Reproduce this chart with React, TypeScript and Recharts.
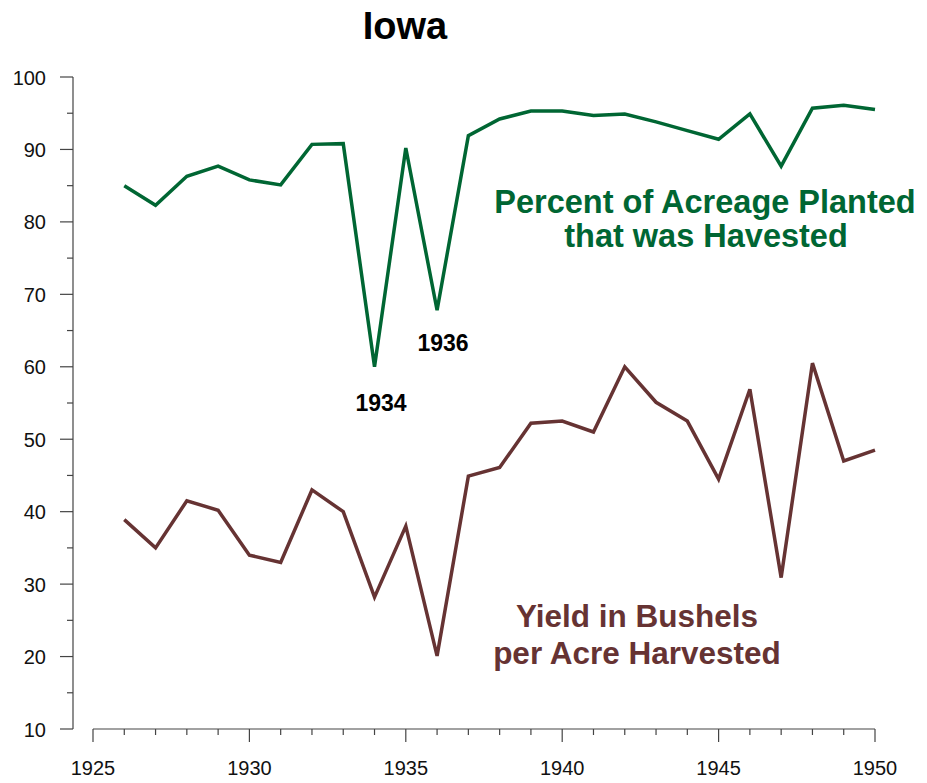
import { LineChart, Line, XAxis, YAxis } from 'recharts';

const years = [
  1926, 1927, 1928, 1929, 1930, 1931, 1932, 1933, 1934, 1935, 1936, 1937, 1938,
  1939, 1940, 1941, 1942, 1943, 1944, 1945, 1946, 1947, 1948, 1949, 1950,
];
const pctHarvested = [
  85.0, 82.3, 86.3, 87.7, 85.8, 85.1, 90.7, 90.8, 60.0, 90.2, 67.8, 91.9, 94.2,
  95.3, 95.3, 94.7, 94.9, 93.8, 92.6, 91.4, 94.9, 87.7, 95.7, 96.1, 95.5,
];
const yieldBushels = [
  38.9, 35.0, 41.5, 40.2, 34.0, 33.0, 43.0, 40.0, 28.2, 38.0, 20.1, 44.9, 46.1,
  52.2, 52.5, 51.0, 60.0, 55.1, 52.5, 44.5, 56.9, 30.9, 60.5, 47.0, 48.5,
];
const xTicks = [
  1925, 1926, 1927, 1928, 1929, 1930, 1931, 1932, 1933, 1934, 1935, 1936, 1937,
  1938, 1939, 1940, 1941, 1942, 1943, 1944, 1945, 1946, 1947, 1948, 1949, 1950,
];
const yTicks = [10, 15, 20, 25, 30, 35, 40, 45, 50, 55, 60, 65, 70, 75, 80, 85, 90, 95, 100];

const data = years.map((year, i) => ({ year, pct: pctHarvested[i], yld: yieldBushels[i] }));

const FONT = '"Liberation Sans", Arial, sans-serif';
const GREEN = '#006633';
const BROWN = '#663333';
const AXIS = '#444';

const XTick = ({ x, y, payload }: any) => {
  const major = payload.value % 5 === 0;
  return (
    <g>
      <line x1={x} x2={x} y1={y} y2={y + (major ? 13 : 6)} stroke={AXIS} strokeWidth={1.2} />
      {major && (
        <text x={x} y={y + 46} textAnchor="middle" fontSize={20} fill="#111" fontFamily={FONT}>
          {payload.value}
        </text>
      )}
    </g>
  );
};

const YTick = ({ x, y, payload }: any) => {
  const major = payload.value % 10 === 0;
  return (
    <g>
      <line x1={x - (major ? 13 : 6)} x2={x} y1={y} y2={y} stroke={AXIS} strokeWidth={1.2} />
      {major && (
        <text x={x - 27} y={y + 7.5} textAnchor="end" fontSize={20} fill="#111" fontFamily={FONT}>
          {payload.value}
        </text>
      )}
    </g>
  );
};

export default function App() {
  return (
    <div style={{ position: 'absolute', left: 0, top: 0, width: 927, height: 783, background: '#fff' }}>
      <LineChart width={927} height={783} data={data} margin={{ top: 77, right: 52, left: 0, bottom: 0 }}>
        <XAxis
          dataKey="year"
          type="number"
          domain={[1925, 1950]}
          ticks={xTicks}
          interval={0}
          padding={{ left: 20, right: 0 }}
          height={54}
          axisLine={false}
          tickLine={false}
          tickSize={0}
          tickMargin={0}
          tick={<XTick />}
        />
        <YAxis
          type="number"
          domain={[10, 100]}
          ticks={yTicks}
          interval={0}
          width={73}
          axisLine={{ stroke: AXIS, strokeWidth: 1.2 }}
          tickLine={false}
          tickSize={0}
          tickMargin={0}
          tick={<YTick />}
        />
        <Line
          dataKey="pct"
          type="linear"
          stroke={GREEN}
          strokeWidth={3.5}
          dot={false}
          isAnimationActive={false}
        />
        <Line
          dataKey="yld"
          type="linear"
          stroke={BROWN}
          strokeWidth={3.5}
          dot={false}
          isAnimationActive={false}
        />
        <line x1={93} x2={875} y1={729} y2={729} stroke={AXIS} strokeWidth={1.2} />
        <text x={405} y={39} textAnchor="middle" fontSize={38} fontWeight="bold" fill="#000" fontFamily={FONT}>
          Iowa
        </text>
        <text x={381} y={411} textAnchor="middle" fontSize={23} fontWeight="bold" fill="#000" fontFamily={FONT}>
          1934
        </text>
        <text x={443} y={351} textAnchor="middle" fontSize={23} fontWeight="bold" fill="#000" fontFamily={FONT}>
          1936
        </text>
        <text textAnchor="middle" fontSize={32.5} fontWeight="bold" fill={GREEN} fontFamily={FONT}>
          <tspan x={705} y={213}>Percent of Acreage Planted</tspan>
          <tspan x={706} y={247}>that was Havested</tspan>
        </text>
        <text textAnchor="middle" fontSize={31.5} fontWeight="bold" fill={BROWN} fontFamily={FONT}>
          <tspan x={637} y={627}>Yield in Bushels</tspan>
          <tspan x={637} y={664}>per Acre Harvested</tspan>
        </text>
      </LineChart>
    </div>
  );
}
